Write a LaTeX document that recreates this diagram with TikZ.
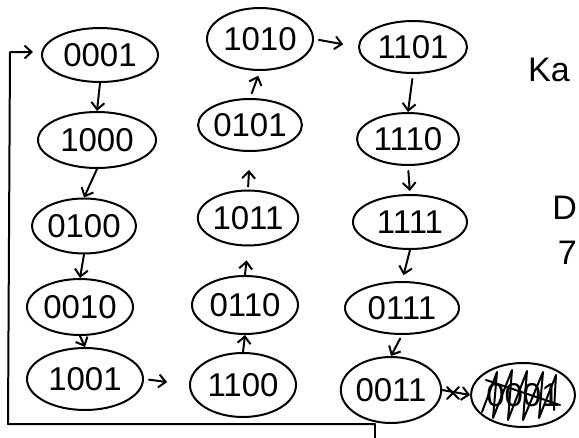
\documentclass[tikz,border=0pt]{standalone}
\usepackage{fontspec}
\setmainfont{Liberation Sans}
\usetikzlibrary{shapes.geometric,arrows.meta}
\begin{document}
\begin{tikzpicture}[x=1pt,y=-1pt,
  line cap=round, line join=round,
  st/.style={ellipse, draw, line width=2pt, inner sep=0pt, font=\fontsize{33}{33}\selectfont},
  arr/.style={-{Straight Barb[length=7pt,width=13pt,line width=2pt]}, line width=2pt},
  ln/.style={line width=2pt},
  hand/.style={font=\fontsize{34}{34}\selectfont, inner sep=0pt}]
\useasboundingbox (0,0) rectangle (579,437);
\clip (0,0) rectangle (579,437);
% column 1
\node[st, minimum width=116pt, minimum height=54pt] (n0001) at (100,55) {0001};
\node[st, minimum width=118pt, minimum height=56pt] (n1000) at (97,140) {1000};
\node[st, minimum width=100pt, minimum height=55pt] (n0100) at (84,226) {0100};
\node[st, minimum width=106pt, minimum height=56pt] (n0010) at (80,307) {0010};
\node[st, minimum width=116pt, minimum height=62pt] (n1001) at (85,379) {1001};
% column 2
\node[st, minimum width=106pt, minimum height=62pt] (n1010) at (260,39) {1010};
\node[st, minimum width=98pt, minimum height=52pt] (n0101) at (250,125) {0101};
\node[st, minimum width=94pt, minimum height=55pt] (n1011) at (248,218) {1011};
\node[st, minimum width=106pt, minimum height=58pt] (n0110) at (245,305) {0110};
\node[st, minimum width=106pt, minimum height=64pt] (n1100) at (243,385) {1100};
% column 3
\node[st, minimum width=108pt, minimum height=52pt] (n1101) at (413,47) {1101};
\node[st, minimum width=102pt, minimum height=52pt] (n1110) at (408,139) {1110};
\node[st, minimum width=114pt, minimum height=54pt] (n1111) at (410,222) {1111};
\node[st, minimum width=114pt, minimum height=52pt] (n0111) at (402,308) {0111};
\node[st, minimum width=96pt, minimum height=66pt] (n0011) at (391,390) {0011};
\node[st, minimum width=100pt, minimum height=64pt] (nX) at (523,395) {0001};
% scribble over crossed-out state
\draw[ln] (482,412) -- (497,372) -- (493,418) -- (512,370) -- (508,420) -- (527,371) -- (523,420) -- (543,372) -- (539,418) -- (556,375) -- (554,410);
\draw[ln] (486,380) -- (560,405);
% arrows
\draw[arr] (n0001.south) -- (n1000.north);
\draw[arr] (n1000.south) -- (n0100.north);
\draw[arr] (n0100.south) -- (n0010.north);
\draw[arr] (n0010.south) -- (n1001.north);
\draw[arr, shorten <=5pt, shorten >=22pt] (n1001.east) -- (n1100.west);
\draw[arr] (n1100.north) -- (n0110.south);
\draw[arr, shorten >=14pt] (n0110.north) -- (n1011.south);
\draw[arr, shorten <=3pt, shorten >=18pt] (n1011.north) -- (n0101.south);
\draw[arr, shorten <=5pt, shorten >=5pt] (n0101.north) -- (n1010.south);
\draw[arr, shorten <=5pt, shorten >=15pt] (n1010.east) -- (n1101.west);
\draw[arr, shorten <=5pt] (n1101.south) -- (n1110.north);
\draw[arr, shorten <=5pt, shorten >=3pt] (n1110.south) -- (n1111.north);
\draw[arr, shorten >=6pt] (n1111.south) -- (n0111.north);
\draw[arr, shorten <=4pt] (n0111.south) -- (n0011.north);
\draw[arr] (n0011.east) -- (nX.west);
% cross on the arrow
\coordinate (xm) at (453,393);
\draw[ln] ([shift={(-6,-6)}]xm) -- ([shift={(6,6)}]xm);
\draw[ln] ([shift={(-6,6)}]xm) -- ([shift={(6,-6)}]xm);
% feedback loop
\coordinate (fb1) at (375,440);
\coordinate (fb2) at (8,424);
\coordinate (fb3) at (10,52);
\draw[ln] (n0011.south -| fb1) -- (fb1);
\draw[arr, shorten >=8pt] (fb1 |- fb2) -- (fb2) -- (fb3) -- (fb3 -| n0001.west);
% margin notes
\node[hand, anchor=west] (tKa) at (528,70) {Ka};
\node[hand, anchor=east] (tD) at (577,208) {D};
\node[hand, anchor=east] (t7) at (577,253) {7};
\end{tikzpicture}
\end{document}
